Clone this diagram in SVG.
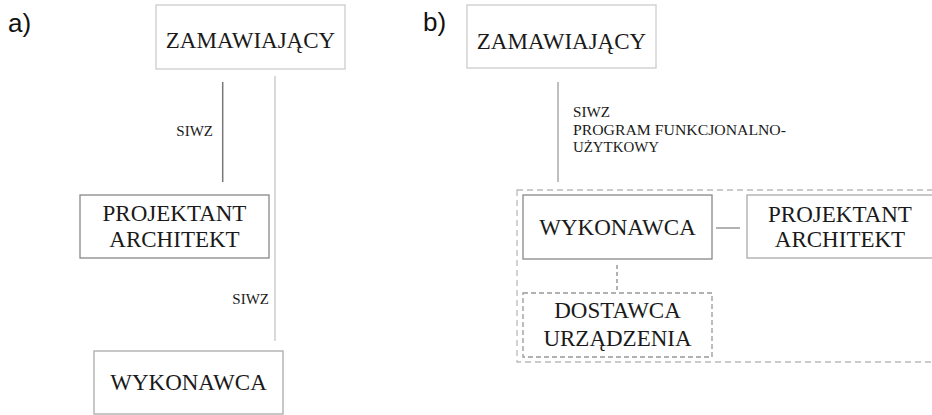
<svg xmlns="http://www.w3.org/2000/svg" width="932" height="415" viewBox="0 0 932 415">
<style>
.box{fill:#fff;stroke:#aaa;stroke-width:1.3}
.lt{stroke:#ccc}
.dk{stroke:#888}
.t{font-family:'Liberation Serif','Times New Roman','DejaVu Serif',serif;font-size:23px;fill:#1a1a1a;text-anchor:middle}
.s{font-family:'Liberation Serif','Times New Roman','DejaVu Serif',serif;font-size:15px;fill:#1a1a1a}
.lab{font-family:'Liberation Sans',Arial,sans-serif;font-size:26px;fill:#111}
.ln{stroke:#888;stroke-width:1.5;fill:none}
.dash{fill:none;stroke:#bbb;stroke-width:1.3;stroke-dasharray:6 4}
</style>
<rect width="932" height="415" fill="#fff"/>
<text class="lab" x="8" y="32">a)</text>
<text class="lab" x="423" y="31">b)</text>
<g id="connectors">
<line class="ln" x1="222.7" y1="82" x2="222.7" y2="182" style="stroke:#777"/>
<line class="ln" x1="275" y1="76" x2="275" y2="341" style="stroke:#ccc"/>
<line class="ln" x1="558" y1="82" x2="558" y2="182" style="stroke:#aaa"/>
<line class="ln" x1="716" y1="228" x2="740" y2="228" style="stroke:#999"/>
<line class="ln" x1="617" y1="265" x2="617" y2="291" style="stroke:#999;stroke-dasharray:4 3"/>
<text class="s" x="213" y="136" text-anchor="end">SIWZ</text>
<text class="s" x="269" y="304" text-anchor="end">SIWZ</text>
<text class="s" x="573" y="117" font-size="13.5" textLength="37" lengthAdjust="spacingAndGlyphs">SIWZ</text>
<text class="s" x="573" y="135" font-size="13.5" textLength="213" lengthAdjust="spacingAndGlyphs">PROGRAM FUNKCJONALNO-</text>
<text class="s" x="573" y="152" font-size="13.5" textLength="86" lengthAdjust="spacingAndGlyphs">UŻYTKOWY</text>
</g>
<g id="group-b">
<rect class="dash" x="517" y="190" width="416" height="172"/>
</g>
<g id="a-zamawiajacy">
<rect class="box lt" x="156" y="5" width="189" height="64"/>
<text class="t" x="250.5" y="48">ZAMAWIAJĄCY</text>
</g>
<g id="a-projektant">
<rect class="box dk" x="80" y="195" width="189" height="63"/>
<text class="t" x="174.5" y="221">PROJEKTANT</text>
<text class="t" x="174.5" y="247">ARCHITEKT</text>
</g>
<g id="a-wykonawca">
<rect class="box" x="94" y="351" width="189" height="63"/>
<text class="t" x="188.5" y="390">WYKONAWCA</text>
</g>
<g id="b-zamawiajacy">
<rect class="box lt" x="467" y="5" width="189" height="63"/>
<text class="t" x="561.5" y="49">ZAMAWIAJĄCY</text>
</g>
<g id="b-wykonawca">
<rect class="box dk" x="523" y="195" width="189" height="64"/>
<text class="t" x="617.5" y="235">WYKONAWCA</text>
</g>
<g id="b-projektant">
<rect class="box" x="747" y="195" width="186" height="63"/>
<text class="t" x="840" y="222">PROJEKTANT</text>
<text class="t" x="840" y="247">ARCHITEKT</text>
</g>
<g id="b-dostawca">
<rect class="box" x="523" y="293" width="189" height="64" style="stroke:#999;stroke-dasharray:5 3"/>
<text class="t" x="617.5" y="318">DOSTAWCA</text>
<text class="t" x="617.5" y="346">URZĄDZENIA</text>
</g>
</svg>
